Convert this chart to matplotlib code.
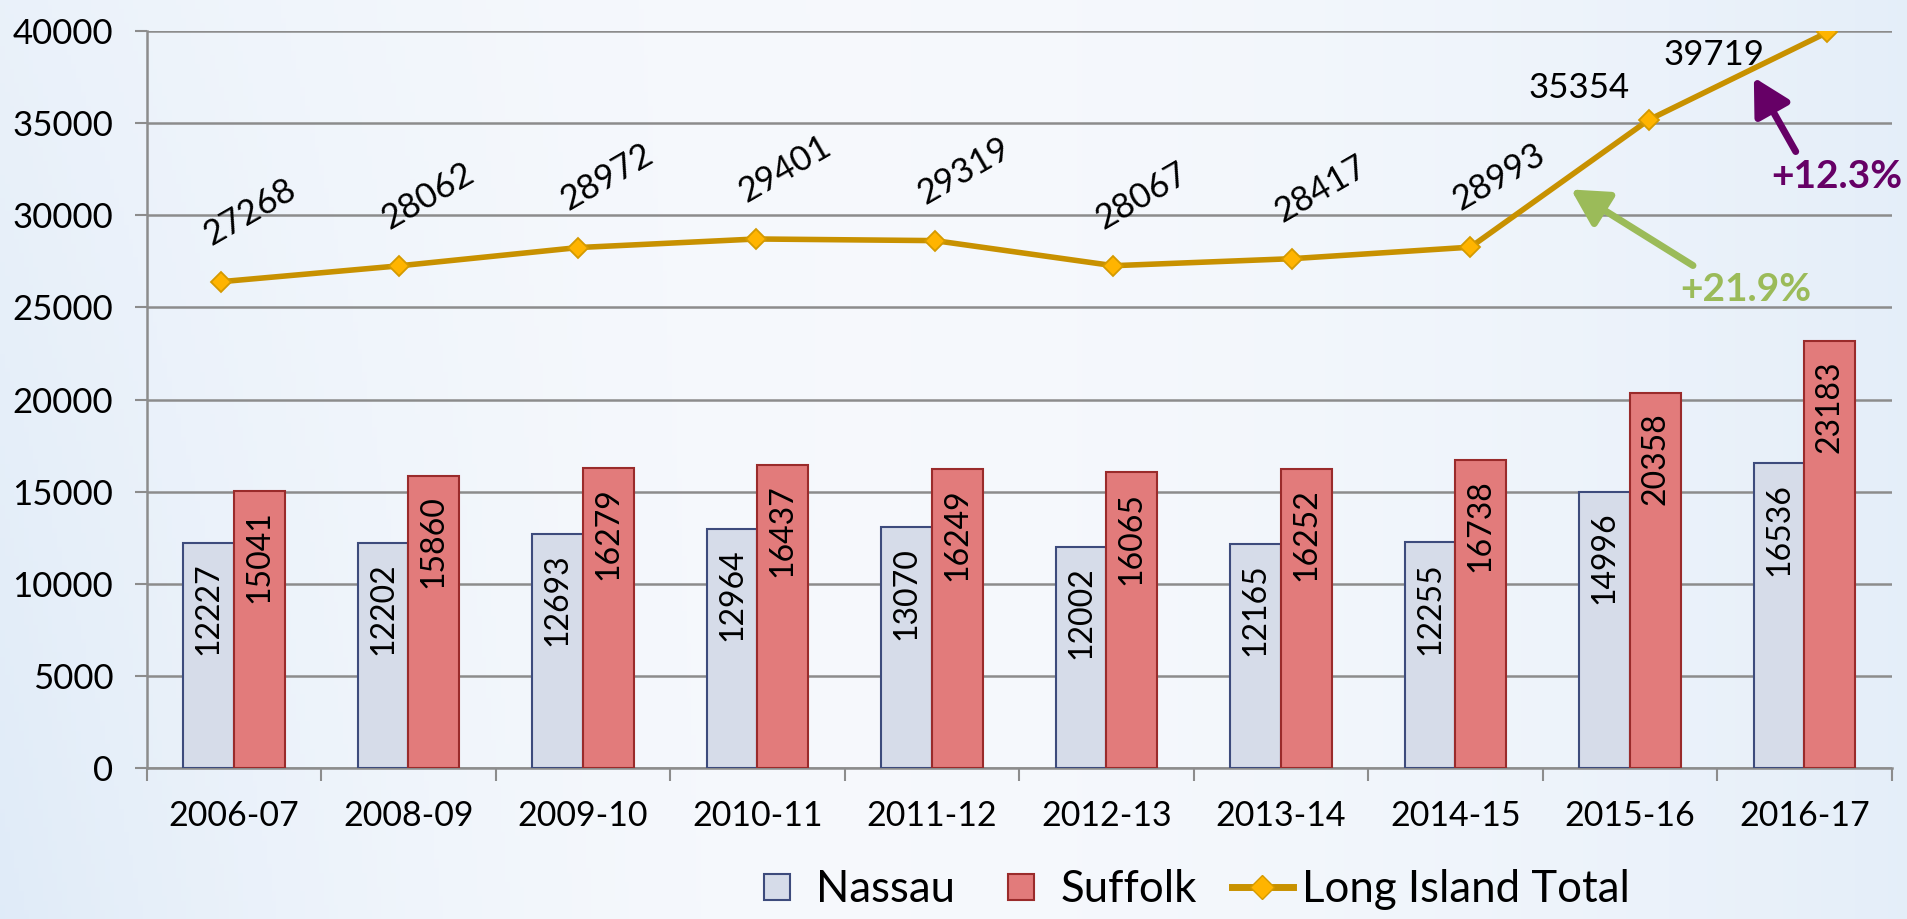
import numpy as np
import matplotlib
matplotlib.use("Agg")
import matplotlib.pyplot as plt
from matplotlib.lines import Line2D

plt.rcParams['font.family'] = ['Lato', 'DejaVu Sans']

# data
years = ['2006-07', '2008-09', '2009-10', '2010-11', '2011-12',
         '2012-13', '2013-14', '2014-15', '2015-16', '2016-17']
nassau = [12227, 12202, 12693, 12964, 13070, 12002, 12165, 12255, 14996, 16536]
suffolk = [15041, 15860, 16279, 16437, 16249, 16065, 16252, 16738, 20358, 23183]
li_total = [27268, 28062, 28972, 29401, 29319, 28067, 28417, 28993, 35354, 39719]

# colours
c_nassau, c_nassau_edge = '#d6dce9', '#3d4b7c'
c_suffolk, c_suffolk_edge = '#e27b7b', '#9a2b2b'
c_line, c_marker, c_marker_edge = '#c89100', '#ffb400', '#d49a00'
c_grid = '#8c8c8c'

W, H = 1907, 919
fig = plt.figure(figsize=(W / 100, H / 100), dpi=100)

# background gradient (light blue edges, whitish centre)
bg = fig.add_axes([0, 0, 1, 1], zorder=-10)
xx, yy = np.meshgrid(np.linspace(0, 1, 400), np.linspace(0, 1, 200))
edge = np.clip(np.abs(xx - 0.45) / 0.55, 0, 1) ** 1.8
edge = edge * (0.55 + 0.45 * yy * (xx < 0.45)) + edge * (xx >= 0.45) * 0.45 * (1 - yy * 0) * 0
edge = np.clip(edge, 0, 1)
white = np.array([0.965, 0.975, 0.99])
blue = np.array([0.84, 0.9, 0.965])
img = white[None, None, :] * (1 - edge[..., None]) + blue[None, None, :] * edge[..., None]
bg.imshow(img, aspect='auto', extent=[0, 1, 0, 1], origin='upper')
bg.axis('off')

rect = [146.7 / W, 1 - 768.3 / H, (1891.7 - 146.7) / W, (768.3 - 30.8) / H]
ax = fig.add_axes(rect)
ax.set_facecolor('none')

x = np.arange(len(years))
bw = 0.29
b1 = ax.bar(x - bw / 2, nassau, bw, color=c_nassau, edgecolor=c_nassau_edge, linewidth=1.5, zorder=3)
b2 = ax.bar(x + bw / 2, suffolk, bw, color=c_suffolk, edgecolor=c_suffolk_edge, linewidth=1.5, zorder=3)

for bars in (b1, b2):
    for r in bars:
        ax.annotate(str(int(r.get_height())), (r.get_x() + r.get_width() / 2, r.get_height()),
                    xytext=(0, -14), textcoords='offset points', rotation=90,
                    ha='center', va='top', fontsize=23, color='black', zorder=5)

ax.set_xlim(-0.5, len(years) - 0.5)
ax.set_ylim(0, 40000)
ax.set_yticks(np.arange(0, 40001, 5000))
ax.set_xticks(np.arange(-0.5, len(years) + 0.5, 1), minor=False)
ax.set_xticklabels([])
ax.set_xticks(x, minor=True)
ax.set_xticklabels(years, minor=True)
ax.tick_params(axis='x', which='major', length=9, width=1.5, color=c_grid)
ax.tick_params(axis='x', which='minor', length=0, pad=23, labelsize=24.5)
ax.tick_params(axis='y', length=9, width=1.5, color=c_grid, pad=15, labelsize=25)
ax.grid(axis='y', color=c_grid, linewidth=1.8, zorder=0)
ax.set_axisbelow(True)
for s in ['top', 'right']:
    ax.spines[s].set_visible(False)
for s in ['left', 'bottom']:
    ax.spines[s].set_color(c_grid)
    ax.spines[s].set_linewidth(1.8)

# line on its own (hidden) scale, like the secondary axis in the original
ax2 = fig.add_axes(rect)
ax2.set_facecolor('none')
ax2.set_xlim(-0.416, 9.36)
ax2.set_ylim(2975, 39794)
ax2.axis('off')
ax2.plot(x, li_total, color=c_line, linewidth=4, marker='D', markersize=10,
         markerfacecolor=c_marker, markeredgecolor=c_marker_edge, markeredgewidth=1.3, zorder=4)

for i, v in enumerate(li_total):
    if i < 8:
        ax2.annotate(str(v), (x[i], v), xytext=(-7, 26), textcoords='offset points',
                     rotation=30, rotation_mode='anchor', ha='left', va='baseline', fontsize=25)
    elif i == 8:
        ax2.annotate(str(v), (x[i], v), xytext=(-50, 23), textcoords='offset points',
                     ha='center', va='center', fontsize=25)
    else:
        ax2.annotate(str(v), (x[i], v), xytext=(-82, -16), textcoords='offset points',
                     ha='center', va='center', fontsize=25)

# growth arrows
ax2.annotate('', xy=(8.58, 37587), xytext=(8.83, 33644),
             arrowprops=dict(arrowstyle='-|>,head_length=0.55,head_width=0.3',
                             mutation_scale=40, lw=5, color='#660066'))
ax2.text(9.05, 32545, '+12.3%', color='#660066', fontsize=28, fontweight='bold',
         ha='center', va='center')
ax2.annotate('', xy=(7.55, 31946), xytext=(8.26, 28002),
             arrowprops=dict(arrowstyle='-|>,head_length=0.55,head_width=0.3',
                             mutation_scale=40, lw=5, color='#9bbb59'))
ax2.text(8.54, 26854, '+21.9%', color='#9bbb59', fontsize=28, fontweight='bold',
         ha='center', va='center')

handles = [
    Line2D([], [], linestyle='none', marker='s', markersize=19, markerfacecolor=c_nassau,
           markeredgecolor=c_nassau_edge, markeredgewidth=1.5),
    Line2D([], [], linestyle='none', marker='s', markersize=19, markerfacecolor=c_suffolk,
           markeredgecolor=c_suffolk_edge, markeredgewidth=1.5),
    Line2D([], [], color=c_line, linewidth=5, marker='D', markersize=12,
           markerfacecolor=c_marker, markeredgecolor=c_marker_edge),
]
fig.legend(handles, ['Nassau', 'Suffolk', 'Long Island Total'], ncol=3, frameon=False,
           loc='center', bbox_to_anchor=(1188 / W, 1 - 890 / H), fontsize=31.5,
           handlelength=1.4, handletextpad=0.2, columnspacing=0.8)

fig.savefig('out.png', dpi=100)
